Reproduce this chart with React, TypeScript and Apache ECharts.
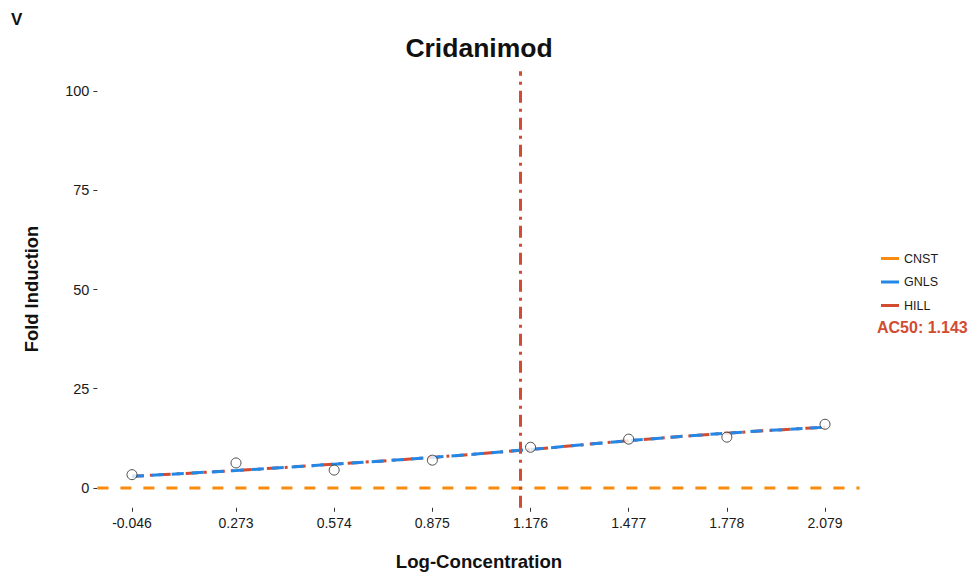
import React, { useEffect, useRef } from "react";
import * as echarts from "echarts";

// Log-concentration tick positions (also the tested concentrations)
const concentrations = [-0.046, 0.273, 0.574, 0.875, 1.176, 1.477, 1.778, 2.079];
const tickLabels = ["-0.046", "0.273", "0.574", "0.875", "1.176", "1.477", "1.778", "2.079"];
// Observed fold induction at each concentration
const observed = [3.35, 6.3, 4.5, 7.0, 10.25, 12.3, 12.8, 16.05];
// Fitted model curves sampled at the concentrations
const gnlsFit = [2.95, 4.4, 6.0, 7.7, 9.7, 11.9, 13.8, 15.3];
const hillFit = [2.95, 4.4, 6.0, 7.7, 9.7, 11.9, 13.8, 15.3];
// Constant model
const cnstLevel = 0;
const yTicks = [0, 25, 50, 75, 100];
const ac50 = 1.143;

const X_MIN = -0.152;
const X_MAX = 2.185;
const Y_MIN = -5;
const Y_MAX = 105;

const ORANGE = "#F98B0F";
const BLUE = "#2387E6";
const RED = "#D24C32";
const FONT = "Liberation Sans, Arial, sans-serif";

export default function App() {
  const ref = useRef<HTMLDivElement>(null);

  useEffect(() => {
    if (!ref.current) return;
    const chart = echarts.init(ref.current, undefined, { renderer: "svg" });

    const grid = { left: 97.4, right: 116.4, top: 71.2, bottom: 66.2 };

    chart.setOption({
      animation: false,
      backgroundColor: "#ffffff",
      textStyle: { fontFamily: FONT },
      grid,
      xAxis: {
        type: "value",
        min: X_MIN,
        max: X_MAX,
        axisLine: { show: false, onZero: false },
        splitLine: { show: false },
        axisTick: {
          show: true,
          length: 4,
          customValues: concentrations,
          lineStyle: { color: "#333", width: 1 },
        },
        axisLabel: {
          customValues: concentrations,
          formatter: (v: number) => {
            const i = concentrations.findIndex((c) => Math.abs(c - v) < 1e-6);
            return i >= 0 ? tickLabels[i] : "";
          },
          color: "#1a1a1a",
          fontSize: 14,
          margin: 8,
          fontFamily: FONT,
        },
      },
      yAxis: {
        type: "value",
        min: Y_MIN,
        max: Y_MAX,
        axisLine: { show: false, onZero: false },
        splitLine: { show: false },
        axisTick: {
          show: true,
          length: 4,
          customValues: yTicks,
          lineStyle: { color: "#333", width: 1 },
        },
        axisLabel: {
          customValues: yTicks,
          color: "#1a1a1a",
          fontSize: 14.5,
          margin: 8,
          fontFamily: FONT,
        },
      },
      legend: {
        orient: "vertical",
        left: 876,
        top: 247,
        itemWidth: 18,
        itemHeight: 3,
        itemGap: 10.5,
        icon: "rect",
        textStyle: { fontSize: 12.5, color: "#1a1a1a", fontFamily: FONT },
        data: ["CNST", "GNLS", "HILL"],
      },
      series: [
        {
          name: "CNST",
          type: "line",
          showSymbol: false,
          color: ORANGE,
          data: [
            [X_MIN, cnstLevel],
            [X_MAX, cnstLevel],
          ],
          lineStyle: { color: ORANGE, width: 3, type: [11, 12] },
          z: 2,
        },
        {
          name: "HILL",
          type: "line",
          showSymbol: false,
          smooth: true,
          color: RED,
          data: concentrations.map((c, i) => [c, hillFit[i]]),
          lineStyle: { color: RED, width: 3, type: [12, 6, 3, 6] },
          z: 3,
          markLine: {
            silent: true,
            symbol: "none",
            label: { show: false },
            lineStyle: { color: RED, width: 3, type: [12, 6, 3, 6] },
            data: [
              [
                { coord: [ac50, Y_MIN] },
                { coord: [ac50, Y_MAX] },
              ],
            ],
          },
        },
        {
          name: "GNLS",
          type: "line",
          showSymbol: false,
          smooth: true,
          color: BLUE,
          data: concentrations.map((c, i) => [c, gnlsFit[i]]),
          lineStyle: { color: BLUE, width: 3, type: [12, 8] },
          z: 4,
        },
        {
          name: "Observed",
          type: "scatter",
          symbol: "circle",
          symbolSize: 10,
          data: concentrations.map((c, i) => [c, observed[i]]),
          itemStyle: { color: "#ffffff", borderColor: "#222222", borderWidth: 1 },
          z: 6,
        },
      ],
      graphic: [
        {
          type: "text",
          x: 11,
          y: 19,
          style: {
            text: "V",
            font: `bold 17px ${FONT}`,
            fill: "#111",
            verticalAlign: "middle",
          },
        },
        {
          type: "text",
          x: 479,
          y: 48,
          style: {
            text: "Cridanimod",
            font: `bold 26.5px ${FONT}`,
            fill: "#111",
            align: "center",
            verticalAlign: "middle",
          },
        },
        {
          type: "text",
          x: 479,
          y: 561,
          style: {
            text: "Log-Concentration",
            font: `bold 18.6px ${FONT}`,
            fill: "#111",
            align: "center",
            verticalAlign: "middle",
          },
        },
        {
          type: "text",
          x: 31,
          y: 289,
          rotation: Math.PI / 2,
          style: {
            text: "Fold Induction",
            font: `bold 18.4px ${FONT}`,
            fill: "#111",
            align: "center",
            verticalAlign: "middle",
          },
        },
        {
          type: "text",
          x: 877,
          y: 327,
          style: {
            text: `AC50: ${ac50.toFixed(3)}`,
            font: `bold 16px ${FONT}`,
            fill: RED,
            align: "left",
            verticalAlign: "middle",
          },
        },
      ],
    });

    return () => chart.dispose();
  }, []);

  return (
    <div
      ref={ref}
      style={{ position: "fixed", left: 0, top: 0, width: 976, height: 574 }}
    />
  );
}
